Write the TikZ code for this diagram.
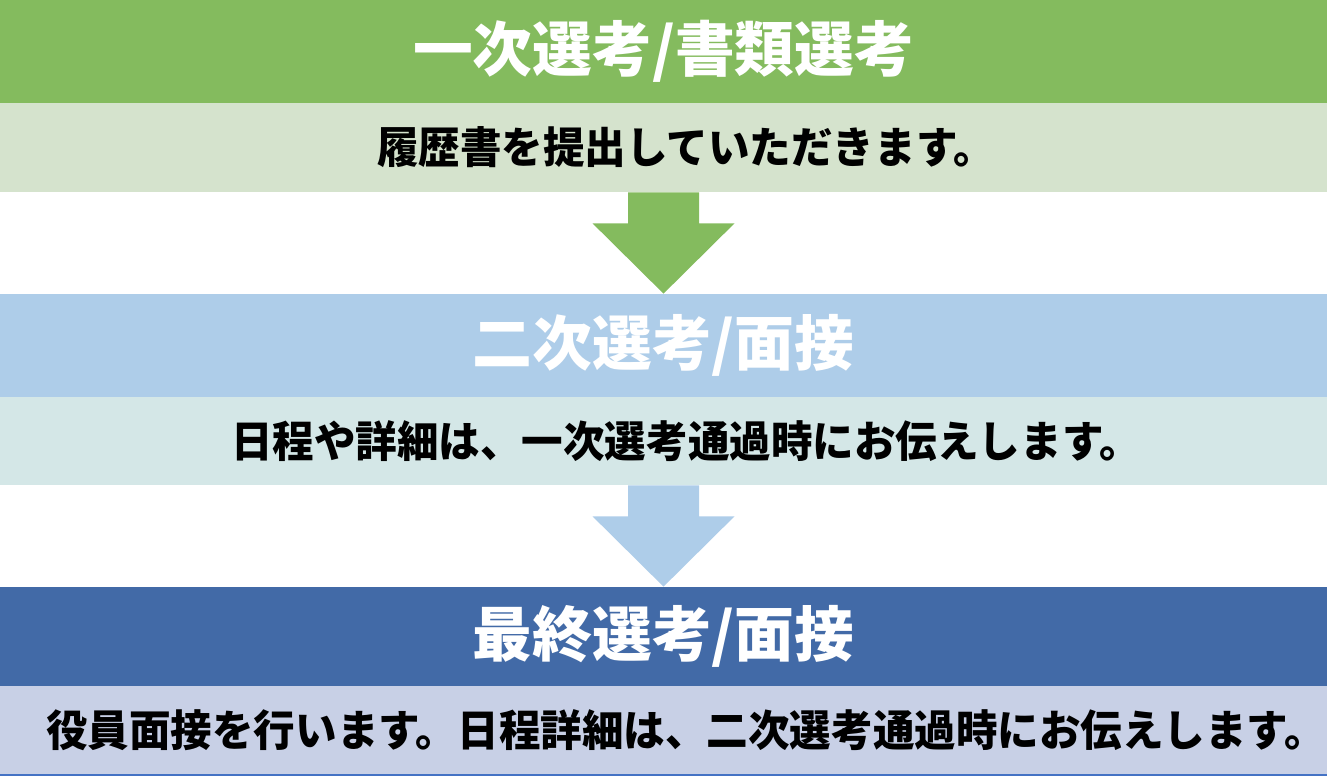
\documentclass[tikz,border=0pt]{standalone}
\usepackage{fontspec}
\newfontfamily\jphead{Noto Sans CJK JP}
\newfontfamily\jpbody{Noto Sans CJK JP}[FakeStretch=0.965]
\usetikzlibrary{calc}
\definecolor{grnhead}{RGB}{132,187,94}
\definecolor{grnbody}{RGB}{213,227,205}
\definecolor{bluhead}{RGB}{174,205,233}
\definecolor{blubody}{RGB}{212,231,231}
\definecolor{navhead}{RGB}{66,106,167}
\definecolor{navbody}{RGB}{200,208,230}
\definecolor{navline}{RGB}{68,114,196}
\begin{document}
\begin{tikzpicture}[
  band/.style={inner sep=0pt, minimum width=26.54cm},
  headband/.style={band, text=white, font=\jphead\bfseries\fontsize{34}{40}\selectfont},
  bodyband/.style={band, text=black, font=\jpbody\bfseries\fontsize{24.5}{30}\selectfont}]
\useasboundingbox (0,0) rectangle (26.54,15.56);
%\draw[step=1cm,gray,very thin] (0,0) grid (26.54,15.56);
\node[headband,fill=grnhead,minimum height=2.06cm] (shorui) at (13.27,14.53) {一次選考/書類選考};
\node[bodyband,fill=grnbody,minimum height=1.78cm] (rireki) at (13.27,12.61) {\hspace*{0.9cm}履歴書を提出していただきます。};
\node[headband,fill=bluhead,minimum height=2.06cm] (niji) at (13.27,8.65) {二次選考/面接};
\node[bodyband,fill=blubody,minimum height=1.76cm] (nittei) at (13.27,6.74) {\hspace*{0.9cm}日程や詳細は、一次選考通過時にお伝えします。};
\node[headband,fill=navhead,minimum height=1.98cm] (saishu) at (13.27,2.83) {最終選考/面接};
\node[bodyband,fill=navbody,minimum height=1.78cm] (yakuin) at (13.27,0.95) {\hspace*{0.9cm}役員面接を行います。日程詳細は、二次選考通過時にお伝えします。};
\draw[navline,line width=1.1pt] (yakuin.south west) -- (yakuin.south east);
% arrows
\fill[grnhead] ($(rireki.south)+(-0.71,0)$) -- ($(rireki.south)+(0.71,0)$)
  -- ($(rireki.south)+(0.71,-0.62)$) -- ($(rireki.south)+(1.42,-0.62)$)
  -- (niji.north) -- ($(rireki.south)+(-1.42,-0.62)$)
  -- ($(rireki.south)+(-0.71,-0.62)$) -- cycle;
\fill[bluhead] ($(nittei.south)+(-0.71,0)$) -- ($(nittei.south)+(0.71,0)$)
  -- ($(nittei.south)+(0.71,-0.62)$) -- ($(nittei.south)+(1.42,-0.62)$)
  -- (saishu.north) -- ($(nittei.south)+(-1.42,-0.62)$)
  -- ($(nittei.south)+(-0.71,-0.62)$) -- cycle;
\end{tikzpicture}
\end{document}
